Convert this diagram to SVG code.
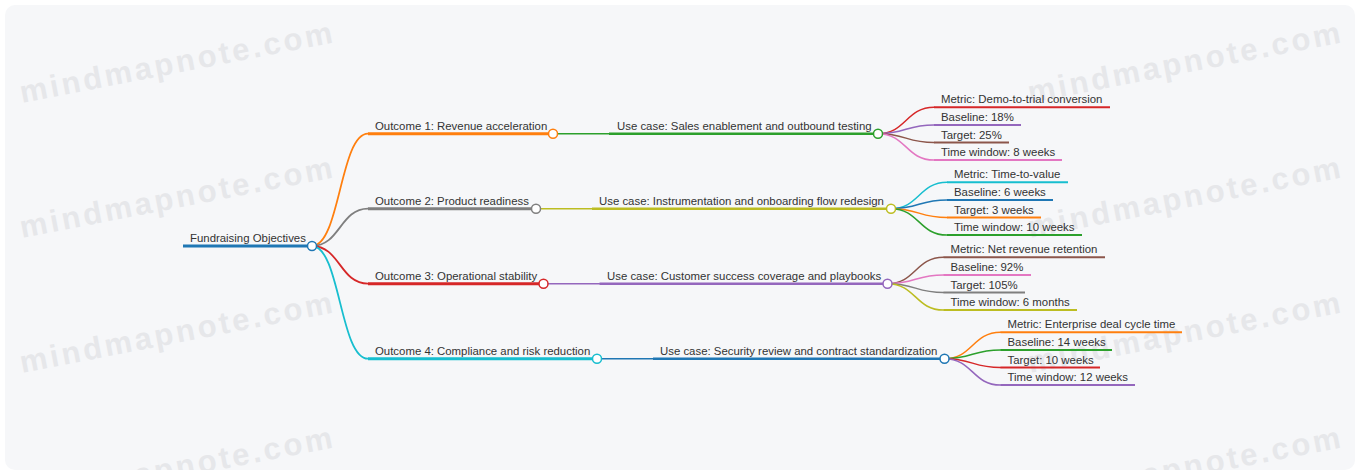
<svg xmlns="http://www.w3.org/2000/svg" width="1360" height="472" viewBox="0 0 1360 472">
<style>
  .wm { font-family: "Liberation Sans", Arial, sans-serif; font-weight: bold; font-size: 31px; letter-spacing: 3px; fill: #e6e7ea; }
  .t { font-family: "Liberation Sans", Arial, sans-serif; font-size: 11.4px; fill: #333333; }
  .e { fill: none; stroke-linecap: round; }
  .e1 { stroke-width: 1.8; }
  .e2 { stroke-width: 1.5; }
  .u { fill: none; }
  .u0 { stroke-width: 3; }
  .u1 { stroke-width: 3; }
  .u2 { stroke-width: 2.6; }
  .u3 { stroke-width: 2; }
  .c { fill: #ffffff; stroke-width: 1.5; }
</style>
<defs>
  <clipPath id="panel"><rect x="5" y="5" width="1350" height="465" rx="10"/></clipPath>
</defs>
<rect x="0" y="0" width="1360" height="472" fill="#ffffff"/>
<rect x="5" y="5" width="1350" height="465" rx="10" fill="#f6f7f9"/>
<g id="watermarks" clip-path="url(#panel)">
  <text class="wm" x="22" y="103" transform="rotate(-11 22 103)">mindmapnote.com</text>
  <text class="wm" x="22" y="238" transform="rotate(-11 22 238)">mindmapnote.com</text>
  <text class="wm" x="22" y="373" transform="rotate(-11 22 373)">mindmapnote.com</text>
  <text class="wm" x="22" y="508" transform="rotate(-11 22 508)">mindmapnote.com</text>
  <text class="wm" x="1030" y="103" transform="rotate(-11 1030 103)">mindmapnote.com</text>
  <text class="wm" x="1030" y="238" transform="rotate(-11 1030 238)">mindmapnote.com</text>
  <text class="wm" x="1030" y="373" transform="rotate(-11 1030 373)">mindmapnote.com</text>
  <text class="wm" x="1030" y="508" transform="rotate(-11 1030 508)">mindmapnote.com</text>
</g>
<g id="connectors">
  <path class="e e1" stroke="#ff7f0e" d="M312,246 C340,246 340,133.7 368,133.7"/>
  <path class="e e1" stroke="#7f7f7f" d="M312,246 C340,246 340,208.7 368,208.7"/>
  <path class="e e1" stroke="#d62728" d="M312,246 C340,246 340,283.7 368,283.7"/>
  <path class="e e1" stroke="#17becf" d="M312,246 C340,246 340,358.7 368,358.7"/>
  <path class="e e2" stroke="#2ca02c" d="M553,133.7 H609"/>
  <path class="e e2" stroke="#bcbd22" d="M536,208.7 H592"/>
  <path class="e e2" stroke="#9467bd" d="M543.5,283.7 H599.5"/>
  <path class="e e2" stroke="#1f77b4" d="M597,358.7 H653"/>
  <path class="e e2" stroke="#d62728" d="M878,133.7 C906,133.7 906,107.3 934,107.3"/>
  <path class="e e2" stroke="#9467bd" d="M878,133.7 C906,133.7 906,124.9 934,124.9"/>
  <path class="e e2" stroke="#8c564b" d="M878,133.7 C906,133.7 906,142.5 934,142.5"/>
  <path class="e e2" stroke="#e377c2" d="M878,133.7 C906,133.7 906,160.1 934,160.1"/>
  <path class="e e2" stroke="#17becf" d="M891,208.7 C919,208.7 919,182.3 947,182.3"/>
  <path class="e e2" stroke="#1f77b4" d="M891,208.7 C919,208.7 919,199.9 947,199.9"/>
  <path class="e e2" stroke="#ff7f0e" d="M891,208.7 C919,208.7 919,217.5 947,217.5"/>
  <path class="e e2" stroke="#2ca02c" d="M891,208.7 C919,208.7 919,235.1 947,235.1"/>
  <path class="e e2" stroke="#8c564b" d="M887.5,283.7 C915.5,283.7 915.5,257.3 943.5,257.3"/>
  <path class="e e2" stroke="#e377c2" d="M887.5,283.7 C915.5,283.7 915.5,274.9 943.5,274.9"/>
  <path class="e e2" stroke="#7f7f7f" d="M887.5,283.7 C915.5,283.7 915.5,292.5 943.5,292.5"/>
  <path class="e e2" stroke="#bcbd22" d="M887.5,283.7 C915.5,283.7 915.5,310.1 943.5,310.1"/>
  <path class="e e2" stroke="#ff7f0e" d="M944.5,358.7 C972.5,358.7 972.5,332.3 1000.5,332.3"/>
  <path class="e e2" stroke="#2ca02c" d="M944.5,358.7 C972.5,358.7 972.5,349.9 1000.5,349.9"/>
  <path class="e e2" stroke="#d62728" d="M944.5,358.7 C972.5,358.7 972.5,367.5 1000.5,367.5"/>
  <path class="e e2" stroke="#9467bd" d="M944.5,358.7 C972.5,358.7 972.5,385.1 1000.5,385.1"/>
</g>
<g id="root">
  <path class="u u0" stroke="#1f77b4" d="M183,246 H312"/>
  <text class="t" x="190" y="242">Fundraising Objectives</text>
  <circle class="c" stroke="#1f77b4" cx="312" cy="246" r="4.5"/>
</g>
<g id="outcome1">
  <path class="u u1" stroke="#ff7f0e" d="M368,133.7 H553"/>
  <text class="t" x="375" y="129.7">Outcome 1: Revenue acceleration</text>
  <circle class="c" stroke="#ff7f0e" cx="553" cy="133.7" r="4.5"/>
</g>
<g id="outcome2">
  <path class="u u1" stroke="#7f7f7f" d="M368,208.7 H536"/>
  <text class="t" x="375" y="204.7">Outcome 2: Product readiness</text>
  <circle class="c" stroke="#7f7f7f" cx="536" cy="208.7" r="4.5"/>
</g>
<g id="outcome3">
  <path class="u u1" stroke="#d62728" d="M368,283.7 H543.5"/>
  <text class="t" x="375" y="279.7">Outcome 3: Operational stability</text>
  <circle class="c" stroke="#d62728" cx="543.5" cy="283.7" r="4.5"/>
</g>
<g id="outcome4">
  <path class="u u1" stroke="#17becf" d="M368,358.7 H597"/>
  <text class="t" x="375" y="354.7">Outcome 4: Compliance and risk reduction</text>
  <circle class="c" stroke="#17becf" cx="597" cy="358.7" r="4.5"/>
</g>
<g id="usecase1">
  <path class="u u2" stroke="#2ca02c" d="M609,133.7 H878"/>
  <text class="t" x="617" y="129.7">Use case: Sales enablement and outbound testing</text>
  <circle class="c" stroke="#2ca02c" cx="878" cy="133.7" r="4.5"/>
</g>
<g id="usecase2">
  <path class="u u2" stroke="#bcbd22" d="M592,208.7 H891"/>
  <text class="t" x="599" y="204.7">Use case: Instrumentation and onboarding flow redesign</text>
  <circle class="c" stroke="#bcbd22" cx="891" cy="208.7" r="4.5"/>
</g>
<g id="usecase3">
  <path class="u u2" stroke="#9467bd" d="M599.5,283.7 H887.5"/>
  <text class="t" x="607" y="279.7">Use case: Customer success coverage and playbooks</text>
  <circle class="c" stroke="#9467bd" cx="887.5" cy="283.7" r="4.5"/>
</g>
<g id="usecase4">
  <path class="u u2" stroke="#1f77b4" d="M653,358.7 H944.5"/>
  <text class="t" x="660" y="354.7">Use case: Security review and contract standardization</text>
  <circle class="c" stroke="#1f77b4" cx="944.5" cy="358.7" r="4.5"/>
</g>
<g id="leaf-1-1"><path class="u u3" stroke="#d62728" d="M934,107.3 H1110"/><text class="t" x="941" y="103.3">Metric: Demo-to-trial conversion</text></g>
<g id="leaf-1-2"><path class="u u3" stroke="#9467bd" d="M934,124.9 H1021"/><text class="t" x="941" y="120.9">Baseline: 18%</text></g>
<g id="leaf-1-3"><path class="u u3" stroke="#8c564b" d="M934,142.5 H1009"/><text class="t" x="941" y="138.5">Target: 25%</text></g>
<g id="leaf-1-4"><path class="u u3" stroke="#e377c2" d="M934,160.1 H1062"/><text class="t" x="941" y="156.1">Time window: 8 weeks</text></g>
<g id="leaf-2-1"><path class="u u3" stroke="#17becf" d="M947,182.3 H1068"/><text class="t" x="954" y="178.3">Metric: Time-to-value</text></g>
<g id="leaf-2-2"><path class="u u3" stroke="#1f77b4" d="M947,199.9 H1053"/><text class="t" x="954" y="195.9">Baseline: 6 weeks</text></g>
<g id="leaf-2-3"><path class="u u3" stroke="#ff7f0e" d="M947,217.5 H1041"/><text class="t" x="954" y="213.5">Target: 3 weeks</text></g>
<g id="leaf-2-4"><path class="u u3" stroke="#2ca02c" d="M947,235.1 H1082"/><text class="t" x="954" y="231.1">Time window: 10 weeks</text></g>
<g id="leaf-3-1"><path class="u u3" stroke="#8c564b" d="M943.5,257.3 H1105"/><text class="t" x="950.5" y="253.3">Metric: Net revenue retention</text></g>
<g id="leaf-3-2"><path class="u u3" stroke="#e377c2" d="M943.5,274.9 H1031"/><text class="t" x="950.5" y="270.9">Baseline: 92%</text></g>
<g id="leaf-3-3"><path class="u u3" stroke="#7f7f7f" d="M943.5,292.5 H1025"/><text class="t" x="950.5" y="288.5">Target: 105%</text></g>
<g id="leaf-3-4"><path class="u u3" stroke="#bcbd22" d="M943.5,310.1 H1077"/><text class="t" x="950.5" y="306.1">Time window: 6 months</text></g>
<g id="leaf-4-1"><path class="u u3" stroke="#ff7f0e" d="M1000.5,332.3 H1182"/><text class="t" x="1007.5" y="328.3">Metric: Enterprise deal cycle time</text></g>
<g id="leaf-4-2"><path class="u u3" stroke="#2ca02c" d="M1000.5,349.9 H1112"/><text class="t" x="1007.5" y="345.9">Baseline: 14 weeks</text></g>
<g id="leaf-4-3"><path class="u u3" stroke="#d62728" d="M1000.5,367.5 H1100"/><text class="t" x="1007.5" y="363.5">Target: 10 weeks</text></g>
<g id="leaf-4-4"><path class="u u3" stroke="#9467bd" d="M1000.5,385.1 H1135"/><text class="t" x="1007.5" y="381.1">Time window: 12 weeks</text></g>
</svg>
